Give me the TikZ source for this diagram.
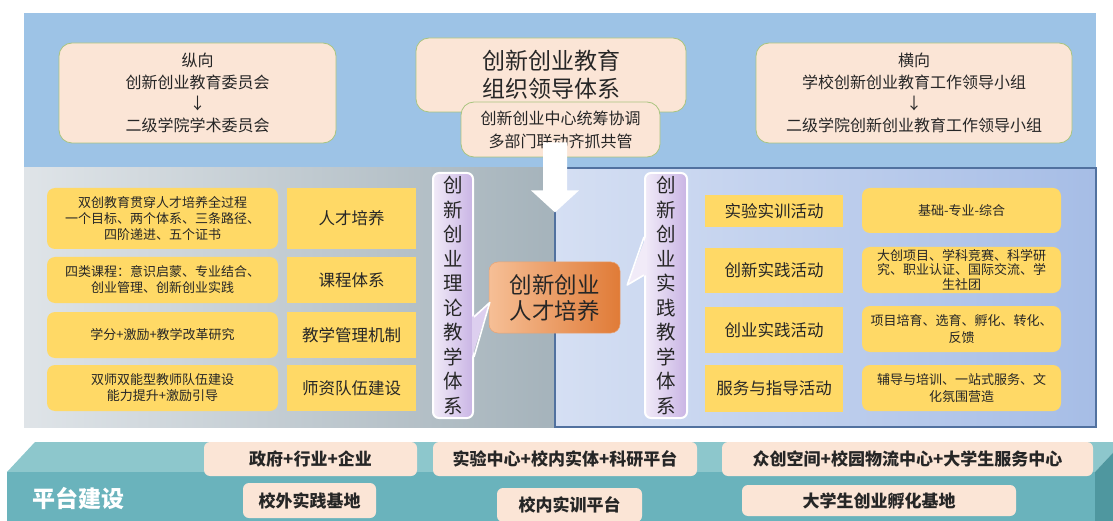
\documentclass[tikz,border=0pt]{standalone}
\usepackage{fontspec}
\newfontfamily\cjk{Noto Sans CJK SC}
\usetikzlibrary{calc}

\definecolor{bandblue}{HTML}{9DC3E6}
\definecolor{peach}{HTML}{FBE5D6}
\definecolor{peachline}{HTML}{A9C47F}
\definecolor{gold}{HTML}{FFD966}
\definecolor{grayl}{HTML}{DFE4E8}
\definecolor{grayr}{HTML}{A5B3BB}
\definecolor{bluel}{HTML}{D5DFF3}
\definecolor{bluer}{HTML}{A6BDE6}
\definecolor{panelline}{HTML}{51719F}
\definecolor{lavl}{HTML}{F1EBF8}
\definecolor{lavr}{HTML}{C9B4E4}
\definecolor{lavm}{HTML}{DDCFEF}
\definecolor{tall}{HTML}{F6BF96}
\definecolor{talr}{HTML}{E07B37}
\definecolor{topface}{HTML}{8DC7CC}
\definecolor{frontface}{HTML}{6AB3BC}
\definecolor{sideface}{HTML}{4F979F}

\begin{document}
\begin{tikzpicture}[x=1pt,y=-1pt,
    every node/.style={inner sep=0pt,text=black!85,align=center},
    tbox/.style={draw=peachline,line width=0.8pt,fill=peach,rounded corners=13pt},
    ybox/.style={fill=gold,rounded corners=8pt,font=\cjk\fontsize{13}{16}\selectfont},
    sbox/.style={fill=gold,font=\cjk\fontsize{16.5}{20}\selectfont},
    vbar/.style={draw=white,line width=2pt,rounded corners=6pt,left color=lavl,right color=lavr,
        minimum width=40,minimum height=245,font=\cjk\fontsize{19.5}{24.5}\selectfont},
    pbox/.style={fill=peach,rounded corners=6pt,font=\cjk\bfseries\fontsize{17}{20}\selectfont}]
    \useasboundingbox (0,0) rectangle (1113,521);

    % top band and panels
    \fill[bandblue] (24,13) rectangle (1096,168);
    \shade[left color=grayl,right color=grayr] (24,168) rectangle (555,427);
    \shade[left color=bluel,right color=bluer] (555,168) rectangle (1096,427);
    \draw[panelline,line width=1.2pt] (555,168) rectangle (1096,427);

    % leadership
    \node[tbox,font=\cjk\fontsize{16}{21.5}\selectfont,minimum width=277,minimum height=100] (vert) at (197.5,93)
        {纵向\\创新创业教育委员会\\↓\\二级学院学术委员会};
    \node[tbox,font=\cjk\fontsize{23}{28}\selectfont,minimum width=270,minimum height=74] (org) at (551,75)
        {创新创业教育\\组织领导体系};
    \node[tbox,font=\cjk\fontsize{16}{23}\selectfont,minimum width=199,minimum height=55] (sub) at (560.5,129.5)
        {创新创业中心统筹协调\\多部门联动齐抓共管};
    \node[tbox,font=\cjk\fontsize{16}{21.5}\selectfont,minimum width=316,minimum height=100] (horiz) at (914,93)
        {横向\\学校创新创业教育工作领导小组\\↓\\二级学院创新创业教育工作领导小组};

    % down arrow
    \coordinate (dn) at ($(sub.south)+(-5.5,55)$);
    \fill[white] ($(dn)+(-12,-70)$) -- ($(dn)+(12,-70)$) -- ($(dn)+(12,-22)$) -- ($(dn)+(24,-22)$)
        -- (dn) -- ($(dn)+(-24,-22)$) -- ($(dn)+(-12,-22)$) -- cycle;

    % theory side
    \node[ybox,minimum width=231,minimum height=61] (l1) at (162.5,218.5)
        {双创教育贯穿人才培养全过程\\一个目标、两个体系、三条路径、\\四阶递进、五个证书};
    \node[ybox,minimum width=231,minimum height=46] (l2) at (162.5,280)
        {四类课程：意识启蒙、专业结合、\\创业管理、创新创业实践};
    \node[ybox,minimum width=231,minimum height=46] (l3) at (162.5,335) {学分+激励+教学改革研究};
    \node[ybox,minimum width=231,minimum height=46] (l4) at (162.5,388)
        {双师双能型教师队伍建设\\能力提升+激励引导};
    \node[sbox,minimum width=129,minimum height=61] (m1) at (351.5,218.5) {人才培养};
    \node[sbox,minimum width=129,minimum height=46] (m2) at (351.5,280) {课程体系};
    \node[sbox,minimum width=129,minimum height=46] (m3) at (351.5,335) {教学管理机制};
    \node[sbox,minimum width=129,minimum height=46] (m4) at (351.5,388) {师资队伍建设};

    % practice side
    \node[sbox,minimum width=138,minimum height=32] (p1) at (774,211) {实验实训活动};
    \node[sbox,minimum width=138,minimum height=45] (p2) at (774,270.5) {创新实践活动};
    \node[sbox,minimum width=138,minimum height=46] (p3) at (774,330) {创业实践活动};
    \node[sbox,minimum width=138,minimum height=47] (p4) at (774,388.5) {服务与指导活动};
    \node[ybox,font=\cjk\fontsize{13}{14.5}\selectfont,minimum width=199,minimum height=45] (q1) at (961.5,210.5) {基础-专业-综合};
    \node[ybox,font=\cjk\fontsize{13}{14.5}\selectfont,minimum width=199,minimum height=46] (q2) at (961.5,270)
        {大创项目、学科竞赛、科学研\\究、职业认证、国际交流、学\\生社团};
    \node[ybox,font=\cjk\fontsize{13}{17}\selectfont,minimum width=199,minimum height=46] (q3) at (961.5,329)
        {项目培育、选育、孵化、转化、\\反馈};
    \node[ybox,font=\cjk\fontsize{13}{17}\selectfont,minimum width=199,minimum height=46] (q4) at (961.5,388)
        {辅导与培训、一站式服务、文\\化氛围营造};

    % callouts
    \node[vbar] (theory) at (453,295.5) {创\\新\\创\\业\\理\\论\\教\\学\\体\\系};
    \node[vbar,minimum width=42] (practice) at (666,295.5) {创\\新\\创\\业\\实\\践\\教\\学\\体\\系};

    \node[rounded corners=9pt,left color=tall,right color=talr,draw=talr!70,line width=0.5pt,
        minimum width=131,minimum height=71,font=\cjk\fontsize{22.5}{26}\selectfont] (talent) at (554.5,297.5)
        {创新创业\\人才培养};
    \coordinate (tipl) at ($(talent.west)+(1,5)$);
    \coordinate (tipr) at ($(talent.east)+(7,-12.5)$);

    \fill[lavm] ($(theory.east)+(-2,21.5)$) -- (tipl) -- ($(theory.east)+(-2,61.5)$) -- cycle;
    \draw[white,line width=1.6pt,line join=round] ($(theory.east)+(0,21.5)$) -- (tipl) -- ($(theory.east)+(0,61.5)$);
    \fill[lavl] ($(practice.west)+(2,-58.5)$) -- (tipr) -- ($(practice.west)+(2,-20.5)$) -- cycle;
    \draw[white,line width=1.6pt,line join=round] ($(practice.west)+(0,-58.5)$) -- (tipr) -- ($(practice.west)+(0,-20.5)$);

    % platform
    \fill[topface] (7,472) -- (35,442) -- (1123,442) -- (1095,472) -- cycle;
    \fill[frontface] (7,472) rectangle (1095,525);
    \fill[sideface] (1095,472) -- (1123,442) -- (1123,525) -- (1095,525) -- cycle;
    \node[text=white,font=\cjk\bfseries\fontsize{23}{26}\selectfont] (plat) at (78,498) {平台建设};

    \node[pbox,minimum width=213,minimum height=34] (u1) at (310.5,459) {政府+行业+企业};
    \node[pbox,minimum width=264,minimum height=34] (u2) at (565,459) {实验中心+校内实体+科研平台};
    \node[pbox,minimum width=371,minimum height=34] (u3) at (907.5,459) {众创空间+校园物流中心+大学生服务中心};
    \node[pbox,minimum width=133,minimum height=35] (b1) at (309.5,500.5) {校外实践基地};
    \node[pbox,minimum width=145,minimum height=34] (b2) at (569.5,505) {校内实训平台};
    \node[pbox,minimum width=274,minimum height=31] (b3) at (879,500.5) {大学生创业孵化基地};
\end{tikzpicture}
\end{document}
